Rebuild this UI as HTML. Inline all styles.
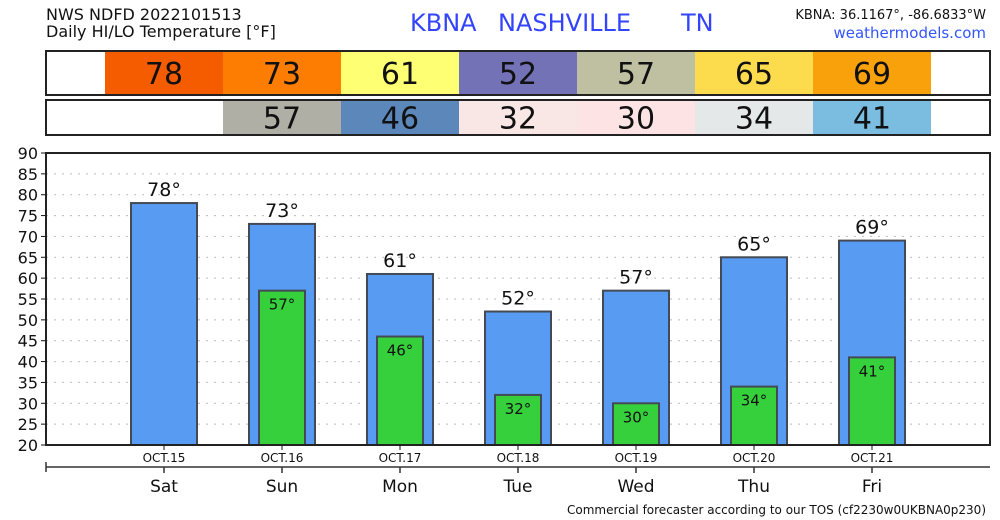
<!DOCTYPE html>
<html><head><meta charset="utf-8"><style>
body{margin:0;background:#fff;}
svg{display:block;font-family:"DejaVu Sans","Liberation Sans",sans-serif;}
</style></head><body>
<svg id="chart" width="1000" height="520" viewBox="0 0 1000 520">
<text x="46" y="20" font-size="16" fill="#111">NWS NDFD 2022101513</text>
<text x="46" y="37" font-size="16" fill="#111">Daily HI/LO Temperature [°F]</text>
<text x="410" y="31" font-size="24" fill="#3344ff">KBNA</text>
<text x="498" y="31" font-size="24" fill="#3344ff">NASHVILLE</text>
<text x="681" y="31" font-size="24" fill="#3344ff">TN</text>
<text x="986" y="19" font-size="13" fill="#111" text-anchor="end">KBNA: 36.1167°, -86.6833°W</text>
<text x="986" y="38" font-size="15" fill="#3355ff" text-anchor="end">weathermodels.com</text>
<g id="hdr"></g>
<g id="grid"></g>
<g id="bars"></g>
<g id="axes"></g>
<text x="986" y="514" font-size="12" fill="#111" text-anchor="end">Commercial forecaster according to our TOS (cf2230w0UKBNA0p230)</text>
</svg>
<script>
const days=['Sat','Sun','Mon','Tue','Wed','Thu','Fri'];
const dates=['OCT.15','OCT.16','OCT.17','OCT.18','OCT.19','OCT.20','OCT.21'];
const hiTemps=[78,73,61,52,57,65,69];
const loTemps=[null,57,46,32,30,34,41];
const hiColors=['#f55c00','#fc7d02','#ffff73','#7472b6','#bfbfa2','#fcdb4c','#f9a10a'];
const loColors=[null,'#afafa6','#5b87ba','#f9e7e6','#fde3e4','#e5e8e8','#7bbce1'];
const yTicks=[20,25,30,35,40,45,50,55,60,65,70,75,80,85,90];
const NS='http://www.w3.org/2000/svg';
const L=46,R=990,T=153,B=445,step=118;
const X=i=>L+(i+1)*step;
const Y=v=>B-(v-20)*(B-T)/70;
function mk(p,tag,a){const e=document.createElementNS(NS,tag);for(const k in a)e.setAttribute(k,a[k]);p.appendChild(e);return e;}
const hdr=document.getElementById('hdr'),grid=document.getElementById('grid'),bars=document.getElementById('bars'),axes=document.getElementById('axes');
[[51,44,hiTemps,hiColors,'hi'],[100,35,loTemps,loColors,'lo']].forEach(([y,h,vals,cols,nm])=>{
  vals.forEach((v,i)=>{
    if(v===null)return;
    const r=mk(hdr,'rect',{x:X(i)-step/2,y:y,width:step,height:h,fill:cols[i]});
    
    
    const t=mk(hdr,'text',{x:X(i),y:y+h/2+11,'font-size':30,'text-anchor':'middle',fill:'#111'});
    t.textContent=v;
    
    
  });
  const f=mk(hdr,'rect',{x:L,y:y,width:R-L,height:h,fill:'none',stroke:'#222','stroke-width':2});
  
  
});
yTicks.forEach(v=>{
  const y=Y(v);
  if(v>20&&v<90){const g=mk(grid,'line',{x1:L,x2:R,y1:y,y2:y,stroke:'#bbb','stroke-dasharray':'2,6','stroke-width':1});
  
  }
  mk(axes,'line',{x1:L-5,x2:L,y1:y,y2:y,stroke:'#111','stroke-width':1});
  const t=mk(axes,'text',{x:L-8,y:y+6,'font-size':16,'text-anchor':'end',fill:'#111'});
  t.textContent=v;
  
  
});
hiTemps.forEach((v,i)=>{
  const x=X(i);
  const b=mk(bars,'rect',{x:x-33,y:Y(v),width:66,height:B-Y(v),fill:'#579cf2',stroke:'#444a55','stroke-width':2});
  
  
  const t=mk(bars,'text',{x:x,y:Y(v)-7,'font-size':19,'text-anchor':'middle',fill:'#111'});
  t.textContent=v+'°';
  
  
  const lv=loTemps[i];
  if(lv!==null){
    const lb=mk(bars,'rect',{x:x-23,y:Y(lv),width:46,height:B-Y(lv),fill:'#36d03c',stroke:'#444a55','stroke-width':2});
    
    
    const lt=mk(bars,'text',{x:x,y:Y(lv)+19,'font-size':15,'text-anchor':'middle',fill:'#111'});
    lt.textContent=lv+'°';
    
    
  }
});
const fr=mk(axes,'rect',{x:L,y:T,width:R-L,height:B-T,fill:'none',stroke:'#222','stroke-width':2});


mk(axes,'line',{x1:L,x2:R,y1:467,y2:467,stroke:'#333','stroke-width':1.5});
mk(axes,'line',{x1:L,x2:L,y1:462,y2:472,stroke:'#333','stroke-width':1.5});
days.forEach((d,i)=>{
  const x=X(i);
  mk(axes,'line',{x1:x,x2:x,y1:B,y2:B+5,stroke:'#111'});
  const t=mk(axes,'text',{x:x,y:462,'font-size':12,'text-anchor':'middle',fill:'#111'});
  t.textContent=dates[i];
  
  
  mk(axes,'line',{x1:x,x2:x,y1:467,y2:473,stroke:'#333','stroke-width':1.5});
  const t2=mk(axes,'text',{x:x,y:492,'font-size':17,'text-anchor':'middle',fill:'#111'});
  t2.textContent=d;
  
  
});
</script>
</body></html>
